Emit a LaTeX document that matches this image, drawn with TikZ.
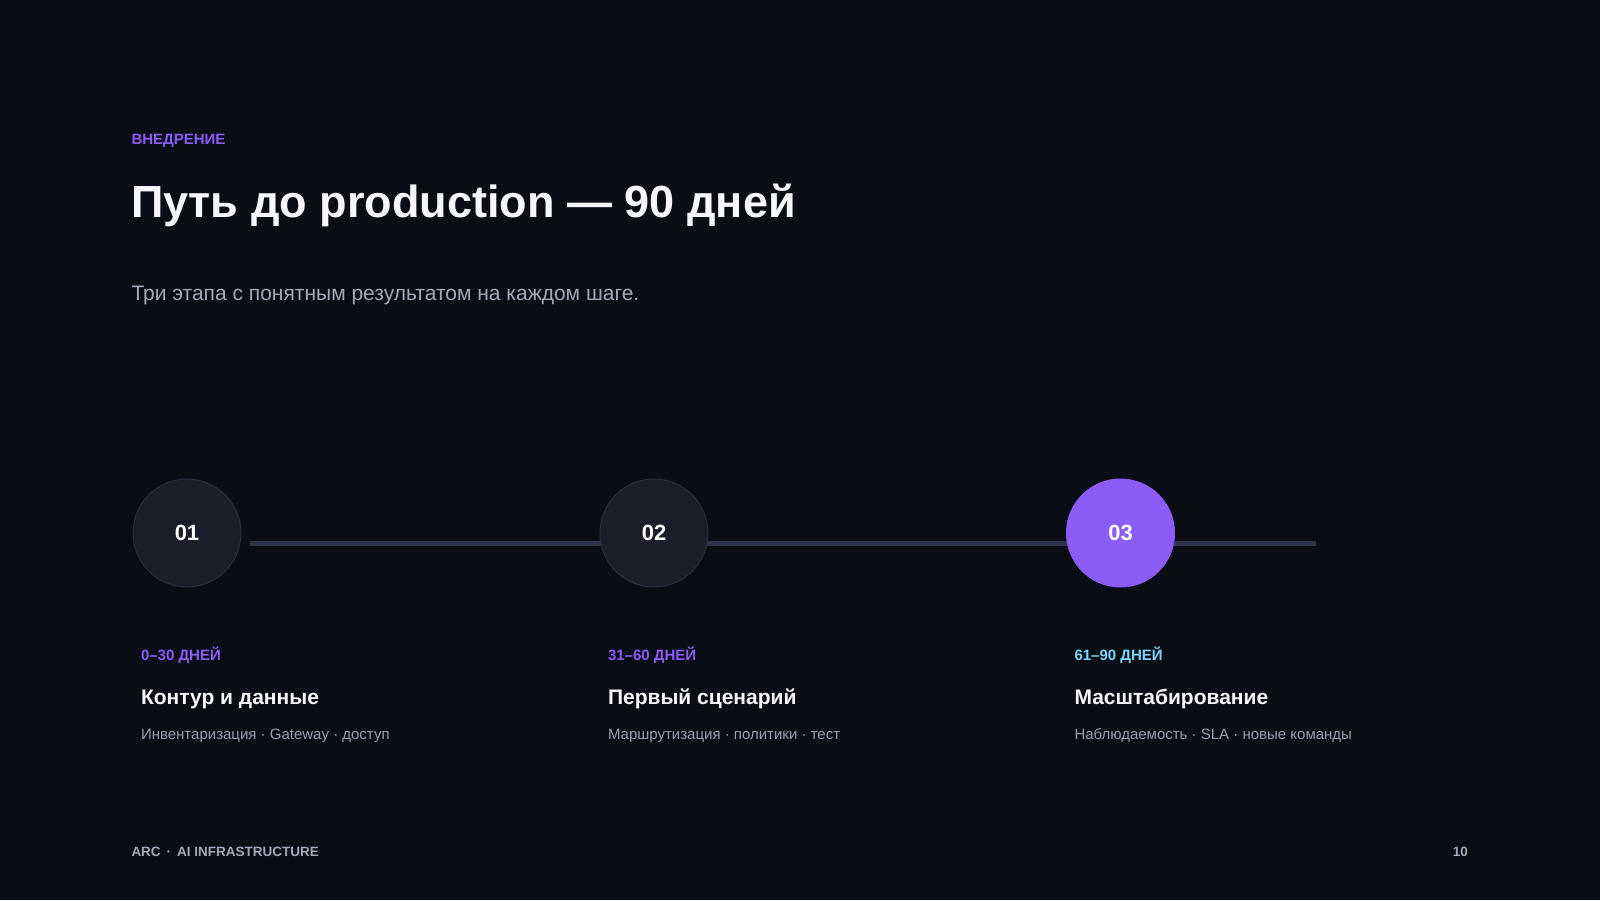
\documentclass[tikz,border=0pt]{standalone}
\usepackage{fontspec}
\setmainfont{Liberation Sans}
\definecolor{bg}{HTML}{0A0D16}
\definecolor{accent}{HTML}{8B5CF6}
\definecolor{cyanacc}{HTML}{7DD6F8}
\definecolor{titlecol}{HTML}{F7F7FB}
\definecolor{subcol}{HTML}{A5A8BA}
\definecolor{desccol}{HTML}{9B9EB0}
\definecolor{circfill}{HTML}{1B1D2B}
\definecolor{circline}{HTML}{2A2D3E}
\definecolor{trackcol}{HTML}{30344A}
\tikzset{
  txt/.style={anchor=base west, inner sep=0pt, outer sep=0pt},
  stepcirc/.style={circle, minimum size=108pt, inner sep=0pt, fill=circfill, draw=circline, line width=1pt},
  stepcircact/.style={circle, minimum size=108pt, inner sep=0pt, fill=accent, draw=accent, line width=1pt},
  numtxt/.style={anchor=base, inner sep=0pt, font=\fontsize{22}{26}\selectfont\bfseries, text=white},
  daystxt/.style={txt, font=\fontsize{15}{18}\selectfont\bfseries},
  headtxt/.style={txt, font=\fontsize{21}{25}\selectfont\bfseries, text=titlecol},
  desctxt/.style={txt, font=\fontsize{15}{18}\selectfont, text=desccol},
  track/.style={draw=trackcol, line width=5.5pt}
}
\begin{document}
\begin{tikzpicture}[x=1pt,y=-1pt]
\fill[bg] (0,0) rectangle (1600,900);
\useasboundingbox (0,0) rectangle (1600,900);

\node[txt, font=\fontsize{15}{18}\selectfont\bfseries, text=accent] (kicker) at (131.5,144.3) {ВНЕДРЕНИЕ};
\node[txt, font=\fontsize{45}{54}\selectfont\bfseries, text=titlecol] (title) at (131,217) {Путь до production — 90 дней};
\node[txt, font=\fontsize{21}{25}\selectfont, text=subcol] (subtitle) at (131.5,300) {Три этапа с понятным результатом на каждом шаге.};

\coordinate (trackstart) at (250,543.7);
\coordinate (trackend) at (1316,543.7);
\draw[track] (trackstart) -- (trackend);

\node[stepcirc] (c1) at (187,533) {};
\node[stepcirc] (c2) at (654,533) {};
\node[stepcircact] (c3) at (1120.5,533) {};
\node[numtxt] (n1) at (187,540.5) {01};
\node[numtxt] (n2) at (654,540.5) {02};
\node[numtxt] (n3) at (1120.5,540.5) {03};

\node[daystxt, text=accent] (d1) at (141,660) {0–30 ДНЕЙ};
\node[headtxt] (h1) at (141,704) {Контур и данные};
\node[desctxt] (s1) at (141,739.5) {Инвентаризация · Gateway · доступ};

\node[daystxt, text=accent] (d2) at (608,660) {31–60 ДНЕЙ};
\node[headtxt] (h2) at (608,704) {Первый сценарий};
\node[desctxt] (s2) at (608,739.5) {Маршрутизация · политики · тест};

\node[daystxt, text=cyanacc] (d3) at (1074.5,660) {61–90 ДНЕЙ};
\node[headtxt] (h3) at (1074.5,704) {Масштабирование};
\node[desctxt] (s3) at (1074.5,739.5) {Наблюдаемость · SLA · новые команды};

\node[txt, font=\fontsize{13.5}{16}\selectfont\bfseries, text=subcol] (foot) at (131.5,856.7) {ARC \,·\, AI INFRASTRUCTURE};
\node[anchor=base east, inner sep=0pt, font=\fontsize{13.5}{16}\selectfont\bfseries, text=subcol] (page) at (1468,856.7) {10};
\end{tikzpicture}
\end{document}
